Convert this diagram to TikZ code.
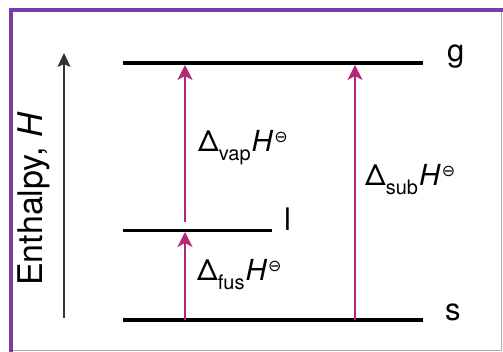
\documentclass[tikz,border=0pt]{standalone}
\usepackage{fontspec}
\setmainfont{TeX Gyre Heros}
\newfontfamily\symfont{DejaVu Sans}
\usetikzlibrary{arrows.meta}
\definecolor{framepurple}{RGB}{122,60,165}
\definecolor{framegray}{RGB}{170,170,175}
\definecolor{trans}{RGB}{178,40,118}
\newcommand{\stdstate}{\kern1pt\raisebox{9.5pt}{\fontsize{16}{16}\selectfont\symfont ⊖}}
\newcommand{\enth}[1]{\fontsize{29}{31}\selectfont Δ\raisebox{-0.3em}{\fontsize{20}{20}\selectfont #1}\kern1pt\textit{H}\stdstate}
\tikzset{
  level/.style={line width=3.4pt, black},
  trarrow/.style={line width=1.5pt, trans, -{Stealth[length=15pt,width=15pt,inset=4pt]}},
  phase/.style={anchor=base west, inner sep=0pt, font=\fontsize{31}{31}\selectfont},
  enthlabel/.style={anchor=base west, inner sep=0pt},
}
\begin{document}
\begin{tikzpicture}[x=1pt,y=-1pt]
  \useasboundingbox (0,0) rectangle (503,352);
  \fill[white] (0,0) rectangle (503,352);
  % frame
  \draw[framegray, line width=1pt] (10.5,350.5) -- (501.5,350.5) -- (501.5,10.5);
  \draw[framepurple, line width=4pt] (10.5,352) -- (10.5,10.5) -- (503,10.5);

  % enthalpy axis
  \coordinate (axbot) at (64,318);
  \coordinate (axtop) at (64,53);
  \draw[line width=1.4pt, black!80, -{Stealth[length=14pt,width=13pt,inset=3pt]}] (axbot) -- (axtop);
  \node[anchor=base west, inner sep=0pt, rotate=90, font=\fontsize{34}{34}\selectfont] (axlab) at (42,286) {Enthalpy, \textit{H}};

  % levels
  \coordinate (gL) at (123,63);  \coordinate (gR) at (423,63);
  \coordinate (lL) at (123,230.5); \coordinate (lR) at (272,230.5);
  \coordinate (sL) at (123,320); \coordinate (sR) at (423,320);
  \draw[level] (gL) -- (gR);
  \draw[level] (lL) -- (lR);
  \draw[level] (sL) -- (sR);
  \node[phase] (g) at (447,62) {g};
  \node[phase] (l) at (284,231) {l};
  \node[phase] (s) at (445,320) {s};

  % transitions
  \coordinate (fusA) at (185,320); \coordinate (fusB) at (185,232);
  \coordinate (vapA) at (185,222); \coordinate (vapB) at (185,65);
  \coordinate (subA) at (355,320); \coordinate (subB) at (355,65);
  \draw[trarrow] (fusA) -- (fusB);
  \draw[trarrow] (vapA) -- (vapB);
  \draw[trarrow] (subA) -- (subB);
  \node[enthlabel] (vap) at (198,152) {\enth{vap}};
  \node[enthlabel] (fus) at (197,281) {\enth{fus}};
  \node[enthlabel] (sub) at (365,186) {\enth{sub}};
\end{tikzpicture}
\end{document}
